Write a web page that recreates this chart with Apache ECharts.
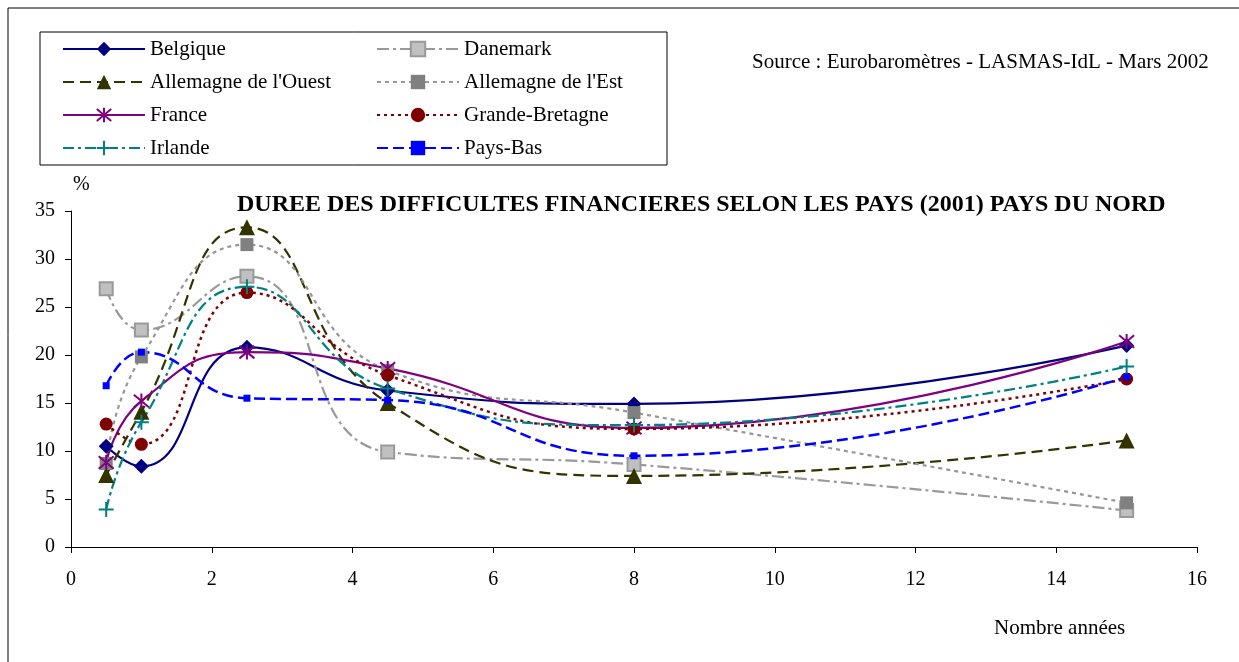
<!DOCTYPE html>
<html><head><meta charset="utf-8">
<script src="https://cdn.jsdelivr.net/npm/echarts@6/dist/echarts.min.js"></script>
<style>html,body{margin:0;padding:0;background:#fff}#c{width:1239px;height:662px}</style>
</head><body><div id="c"></div>
<script>
var years = [0.5, 1, 2.5, 4.5, 8, 15];
var belgique = [10.5, 8.4, 20.8, 16.3, 14.9, 21.0];
var danemark = [26.9, 22.6, 28.2, 9.9, 8.6, 3.8];
var allemagneOuest = [7.5, 14.1, 33.3, 15.0, 7.4, 11.1];
var allemagneEst = [8.7, 19.8, 31.5, 18.4, 14.0, 4.6];
var france = [8.8, 15.2, 20.3, 18.6, 12.4, 21.4];
var grandeBretagne = [12.8, 10.7, 26.5, 17.9, 12.3, 17.5];
var irlande = [3.9, 13.0, 27.1, 16.5, 12.7, 18.8];
var paysBas = [16.8, 20.3, 15.5, 15.3, 9.5, 17.7];
var xTicks = [0, 2, 4, 6, 8, 10, 12, 14, 16];
var yTicks = [0, 5, 10, 15, 20, 25, 30, 35];

function pairs(v){ return years.map(function(x,i){ return [x, v[i]]; }); }
var FONT = '"Liberation Serif","Times New Roman",serif';
var STAR = 'path://M0 0L10 10M10 0L0 10M5 -1L5 11';
var PLUS = 'path://M5 0L5 10M0 5L10 5';

function mk(name, data, color, dash, width, symbol, size, fill, border, bw){
  return {
    name: name, type: 'line', data: pairs(data), smooth: 0.5,
    lineStyle: {color: color, width: width, type: dash},
    symbol: symbol, symbolSize: size,
    itemStyle: {color: fill, borderColor: border, borderWidth: bw},
    emphasis: {disabled: true}
  };
}

var series = [
  mk('Belgique', belgique, '#000080', 'solid', 2.2, 'diamond', 15, '#000080', '#000080', 0),
  mk('Danemark', danemark, '#999999', [12,4,3,4], 2.2, 'rect', 13, '#c0c0c0', '#999999', 2),
  mk("Allemagne de l'Ouest", allemagneOuest, '#333300', [11,6], 2.2, 'triangle', 16, '#333300', '#333300', 0),
  mk("Allemagne de l'Est", allemagneEst, '#969696', [4,4], 2.2, 'rect', 13, '#808080', '#808080', 0),
  mk('France', france, '#800080', 'solid', 2.2, STAR, 15, 'transparent', '#800080', 2),
  mk('Grande-Bretagne', grandeBretagne, '#800000', [3,4], 2.5, 'circle', 13, '#800000', '#800000', 0),
  mk('Irlande', irlande, '#008080', [11,4,3,4], 2.2, PLUS, 15, 'transparent', '#008080', 2),
  mk('Pays-Bas', paysBas, '#0000ff', [11,5], 2.5, 'rect', 7, '#0000ff', '#0000ff', 0)
];

var legendCommon = {
  orient: 'vertical', itemWidth: 82, itemHeight: 18, itemGap: 11, itemTextGap: 3, padding: 0,
  textStyle: {fontFamily: FONT, fontSize: 21, color: '#000', lineHeight: 22},
  selectedMode: false, inactiveColor: '#000'
};

var option = {
  animation: false,
  backgroundColor: '#fff',
  title: {
    text: 'DUREE DES DIFFICULTES FINANCIERES SELON LES PAYS (2001) PAYS DU NORD',
    left: 237, top: 193, padding: 0,
    textStyle: {fontFamily: FONT, fontSize: 24, fontWeight: 'bold', color: '#000'}
  },
  legend: [
    Object.assign({left: 62, top: 38, data: ['Belgique', "Allemagne de l'Ouest", 'France', 'Irlande']}, legendCommon),
    Object.assign({left: 376, top: 38, data: ['Danemark', "Allemagne de l'Est", 'Grande-Bretagne', 'Pays-Bas']}, legendCommon)
  ],
  grid: {left: 71, right: 42, top: 211, bottom: 115, containLabel: false},
  xAxis: {
    type: 'value', min: xTicks[0], max: xTicks[xTicks.length-1], interval: 2,
    axisLine: {lineStyle: {color: '#000', width: 1}},
    axisTick: {show: true, inside: false, length: 6, lineStyle: {color: '#000'}},
    axisLabel: {fontFamily: FONT, fontSize: 20, color: '#000', margin: 23},
    splitLine: {show: false}
  },
  yAxis: {
    type: 'value', min: yTicks[0], max: yTicks[yTicks.length-1], interval: 5,
    axisLine: {show: true, lineStyle: {color: '#000', width: 1}},
    axisTick: {show: true, inside: false, length: 6, lineStyle: {color: '#000'}},
    axisLabel: {fontFamily: FONT, fontSize: 20, color: '#000', margin: 16},
    splitLine: {show: false}
  },
  graphic: [
    {type: 'rect', shape: {x: 8, y: 8, width: 1260, height: 700}, style: {fill: 'none', stroke: '#000', lineWidth: 1}, z: -1},
    {type: 'rect', shape: {x: 40, y: 32, width: 627, height: 133}, style: {fill: 'none', stroke: '#000', lineWidth: 1}, z: -1},
    {type: 'text', left: 752, top: 52, style: {text: 'Source : Eurobaromètres - LASMAS-IdL - Mars 2002', font: '21px ' + FONT, fill: '#000'}},
    {type: 'text', left: 73, top: 175, style: {text: '%', font: '20px ' + FONT, fill: '#000'}},
    {type: 'text', left: 994, top: 618, style: {text: 'Nombre années', font: '21px ' + FONT, fill: '#000'}}
  ],
  series: series
};
var chart = echarts.init(document.getElementById('c'), null, {renderer: 'canvas'});
chart.setOption(option);
</script></body></html>
